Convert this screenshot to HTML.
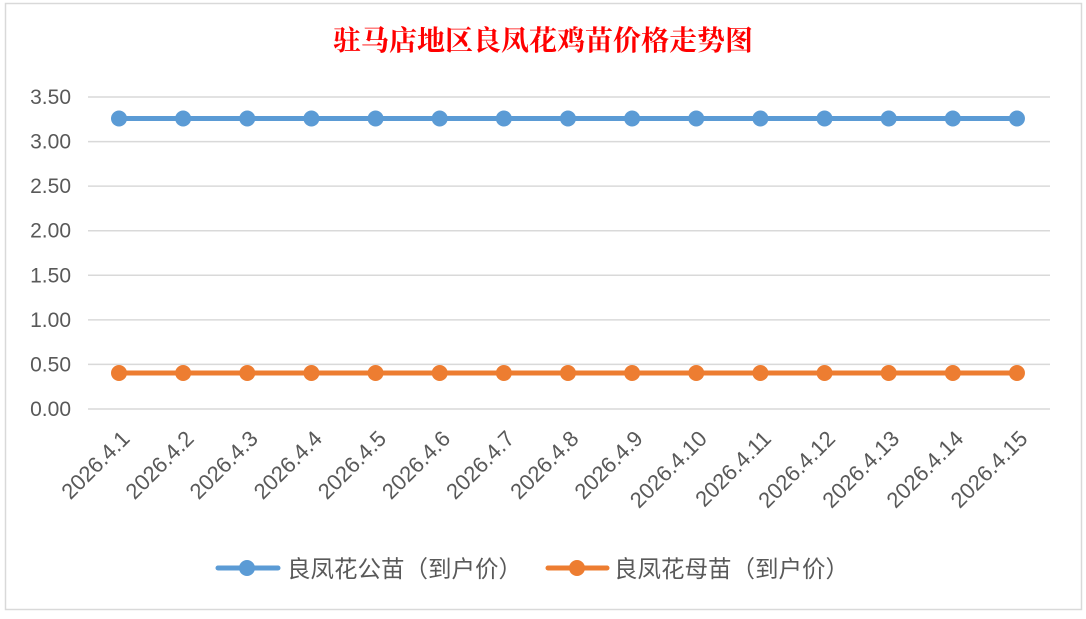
<!DOCTYPE html>
<html><head><meta charset="utf-8"><style>
body{margin:0;width:1086px;height:614px;background:#fff;overflow:hidden}
text{font-family:"Liberation Sans","Noto Sans CJK SC",sans-serif}
</style></head><body>
<svg width="1086" height="614" xmlns="http://www.w3.org/2000/svg">
<rect x="5.5" y="3.5" width="1076" height="606" fill="#fff" stroke="#d9d9d9" stroke-width="1.5"/>
<text x="543" y="50" text-anchor="middle" font-size="28" font-weight="bold" fill="#ff0000" style="font-family:'Noto Serif CJK SC','Liberation Serif',serif">驻马店地区良凤花鸡苗价格走势图</text>
<g stroke="#d9d9d9" stroke-width="1.5">
<line x1="88" x2="1050" y1="97" y2="97"/><line x1="88" x2="1050" y1="141.6" y2="141.6"/>
<line x1="88" x2="1050" y1="186.1" y2="186.1"/><line x1="88" x2="1050" y1="230.7" y2="230.7"/>
<line x1="88" x2="1050" y1="275.3" y2="275.3"/><line x1="88" x2="1050" y1="319.9" y2="319.9"/>
<line x1="88" x2="1050" y1="364.4" y2="364.4"/><line x1="88" x2="1050" y1="409" y2="409"/>
</g>
<g font-size="21" fill="#595959" text-anchor="end">
<text x="71" y="104">3.50</text><text x="71" y="148.6">3.00</text><text x="71" y="193.1">2.50</text>
<text x="71" y="237.7">2.00</text><text x="71" y="282.3">1.50</text><text x="71" y="326.9">1.00</text>
<text x="71" y="371.4">0.50</text><text x="71" y="416">0.00</text>
</g>
<line x1="119" x2="1017" y1="118.5" y2="118.5" stroke="#5b9bd5" stroke-width="5"/>
<line x1="119" x2="1017" y1="373" y2="373" stroke="#ed7d31" stroke-width="5"/>
<g id="pts"></g>
<g id="lbl" font-size="22" fill="#595959" text-anchor="end"></g>
<line x1="218" x2="278" y1="568" y2="568" stroke="#5b9bd5" stroke-width="5" stroke-linecap="round"/>
<circle cx="247" cy="568" r="8" fill="#5b9bd5"/>
<text x="287" y="577" font-size="23.5" fill="#595959">良凤花公苗（到户价）</text>
<line x1="548" x2="607" y1="568" y2="568" stroke="#ed7d31" stroke-width="5" stroke-linecap="round"/>
<circle cx="577" cy="568" r="8" fill="#ed7d31"/>
<text x="614" y="577" font-size="23.5" fill="#595959">良凤花母苗（到户价）</text>
</svg>
<script>
var p=document.getElementById('pts'),l=document.getElementById('lbl'),h='',t='';
for(var i=0;i<15;i++){var x=119+i*64.14;
h+='<circle cx="'+x+'" cy="118.5" r="8" fill="#5b9bd5"/><circle cx="'+x+'" cy="373" r="8" fill="#ed7d31"/>';
t+='<text transform="translate('+(x+12)+',440) rotate(-45)">2026.4.'+(i+1)+'</text>';}
p.innerHTML=h;l.innerHTML=t;
</script>
</body></html>
